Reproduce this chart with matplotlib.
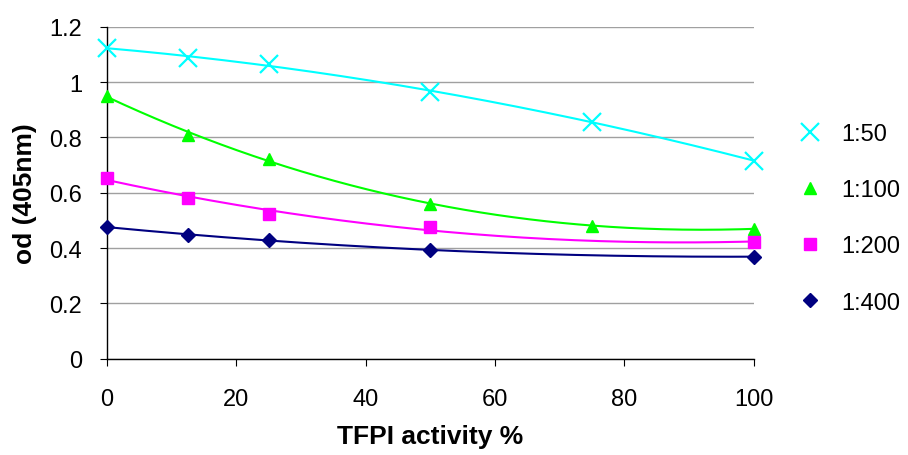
import numpy as np
import matplotlib
matplotlib.use('Agg')
import matplotlib.pyplot as plt

plt.rcParams['font.family'] = ['Liberation Sans', 'DejaVu Sans']

# TFPI activity (%) and optical density per dilution
x_50 = [0, 12.5, 25, 50, 75, 100]
od_50 = [1.124, 1.088, 1.066, 0.965, 0.857, 0.716]

x_100 = [0, 12.5, 25, 50, 75, 100]
od_100 = [0.950, 0.810, 0.723, 0.560, 0.481, 0.470]

x_200 = [0, 12.5, 25, 50, 100]
od_200 = [0.654, 0.583, 0.524, 0.476, 0.422]

x_400 = [0, 12.5, 25, 50, 100]
od_400 = [0.477, 0.448, 0.428, 0.394, 0.369]

labels = ['1:50', '1:100', '1:200', '1:400']

# (x, y, colour, marker, size, edge width, trendline degree)
series = [
    (x_50, od_50, '#00FFFF', 'x', 13, 1.6, 3),
    (x_100, od_100, '#00FF00', '^', 9, 1, 3),
    (x_200, od_200, '#FF00FF', 's', 8, 1, 2),
    (x_400, od_400, '#000080', 'D', 7, 1, 2),
]

fig = plt.figure(figsize=(9.08, 4.56), dpi=100)
ax = fig.add_axes([0.118, 0.211, 0.712, 0.728])

xs = np.linspace(0, 100, 200)
for (x, y, col, mk, ms, mew, deg), lab in zip(series, labels):
    # polynomial trendline through the measured points
    coef = np.polyfit(x, y, deg)
    ax.plot(xs, np.polyval(coef, xs), color=col, lw=1.5, zorder=2)
    ax.plot(x, y, linestyle='none', marker=mk, ms=ms, color=col,
            mec=col, mew=mew, label=lab, zorder=3, clip_on=False)

ax.set_xlim(0, 100)
ax.set_ylim(0, 1.2)
ax.set_xticks(range(0, 101, 20))
ax.set_yticks([0, 0.2, 0.4, 0.6, 0.8, 1.0, 1.2])
ax.set_yticklabels(['0', '0.2', '0.4', '0.6', '0.8', '1', '1.2'])
ax.yaxis.grid(True, color='#a0a0a0', lw=1)
ax.set_axisbelow(True)
for s in ['top', 'right']:
    ax.spines[s].set_visible(False)
for s in ['left', 'bottom']:
    ax.spines[s].set_color('black')
    ax.spines[s].set_linewidth(1)
ax.tick_params(axis='both', labelsize=17, direction='out', length=5,
               color='black')
ax.tick_params(axis='x', pad=16)
ax.tick_params(axis='y', pad=13)

ax.set_xlabel('TFPI activity %', fontsize=19, fontweight='bold', labelpad=10)
ax.set_ylabel('od (405nm)', fontsize=19, fontweight='bold', labelpad=9)

leg = fig.legend(loc='upper left', bbox_to_anchor=(0.856, 0.775), frameon=False,
                 fontsize=17, handletextpad=0.8, labelspacing=1.45,
                 handlelength=1.0)

fig.savefig('out.png', dpi=100)
